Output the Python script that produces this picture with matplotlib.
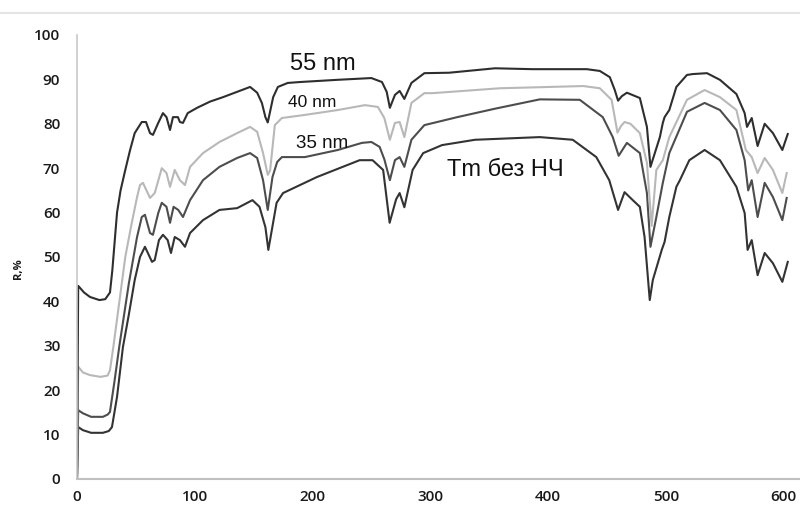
import matplotlib
matplotlib.use('Agg')
import matplotlib.pyplot as plt
from matplotlib.lines import Line2D

plt.rcParams['font.family'] = ['Open Sans', 'DejaVu Sans']

# спектры отражения, R (%) от длины волны
x_55 = [0, 1, 6, 11, 19, 24, 28, 30, 34, 37, 41, 45, 49, 55, 58.6, 62, 64.5, 69, 73, 76,
        79, 81.5, 85.7, 87.4, 90, 94, 102, 113, 124, 136, 147, 153, 157, 160, 162, 166.6,
        170.6, 179, 189, 221, 250, 259, 263, 265.7, 270, 274, 278, 284, 295, 316, 355, 387,
        433, 444, 452.5, 456.7, 459.5, 462.6, 467, 478, 484, 487, 490.7, 495, 497.5, 499,
        503, 509, 518, 523, 535, 546, 560, 567, 569, 573, 578, 584, 591, 599, 603.6]
r_55 = [0, 43.5, 42, 41, 40.3, 40.5, 42, 47, 60, 65, 69.6, 74, 77.9, 80.4, 80.4, 77.9, 77.5,
        80.2, 82.4, 81.5, 78.6, 81.5, 81.5, 80.4, 80.2, 82.4, 83.6, 85, 86, 87.2, 88.3, 87,
        84.7, 81.5, 80.3, 86, 88.3, 89.2, 89.4, 89.9, 90.3, 89.4, 87.2, 83.6, 86.5, 87.4,
        85.6, 89.2, 91.4, 91.5, 92.5, 92.3, 92.3, 91.9, 90.5, 87.6, 85.2, 86.2, 87, 85.8,
        79.3, 70.3, 73.4, 77, 80.2, 81.5, 83.1, 88.3, 91, 91.2, 91.4, 89.9, 86.7, 82.4, 79.3,
        81.3, 75, 80, 77.9, 74.1, 77.7]

x_40 = [0, 1, 5, 11, 20, 26, 28, 31, 34, 37, 41, 46, 51, 53.5, 56, 62, 66, 72, 76, 79, 83,
        87.4, 91.7, 96, 107, 121, 136, 147, 153, 158, 162, 164, 168, 174, 193.5, 221.5,
        244.5, 255.5, 261, 265.7, 270, 274, 278, 284, 295, 302, 359, 430, 444, 454, 459,
        462, 465, 470, 478, 484, 488, 492, 497.5, 503, 518, 533, 546, 560, 568, 573, 578,
        584, 591, 599, 602.7]
r_40 = [0, 25.3, 24, 23.4, 23, 23.3, 24.5, 30, 36, 42, 50, 57, 63.5, 66.2, 66.7, 63.3, 64.4,
        70, 68.9, 65.8, 69.6, 67.3, 66.2, 70.3, 73.4, 75.9, 77.9, 79.3, 78.2, 73.4, 68.5,
        69.5, 79.7, 81.3, 82, 83.1, 84.2, 83.8, 81.3, 76.4, 80.2, 80.4, 77, 84.7, 86.9, 86.9,
        88, 88.5, 88, 85.4, 78, 79.5, 80.4, 80, 77.9, 71.2, 57, 69.6, 71.8, 77, 85.4, 87.6,
        86, 83.1, 74.1, 72.5, 68.9, 72.3, 69.6, 64.4, 68.9]

x_35 = [0, 1, 5, 12, 22, 26, 28, 32, 36, 40, 44, 48, 51, 55, 57.7, 62, 64.5, 69, 72, 76,
        79, 82, 86, 90, 96, 107, 121, 136, 147, 153, 158, 162, 166, 170, 174, 193.5, 221.5,
        242, 250, 257, 261, 265.7, 270, 274, 278, 284, 295, 323, 355, 393, 427, 446.5, 455,
        460, 467, 478, 484, 487, 492, 497.5, 503, 518, 533, 546, 560, 567, 570, 573, 578,
        584, 591, 599, 602.7]
r_35 = [0, 15.5, 14.8, 14, 14, 14.5, 15.1, 22.3, 30, 37, 44, 50, 54.5, 59, 59.5, 55.4, 55,
        59.9, 62.2, 61.3, 57.7, 61.3, 60.6, 59, 62.8, 67.3, 70.3, 72.3, 73.4, 72.3, 67.3,
        60.6, 68, 71.4, 72.5, 72.5, 74.1, 75.7, 75.9, 74.8, 72, 67.3, 71.8, 72.5, 70.3, 76.4,
        79.7, 81.5, 83.4, 85.5, 85.4, 81.5, 77, 72.8, 75.7, 73.4, 64.4, 52.3, 59, 66.7, 73.4,
        82.7, 84.7, 83.1, 78.6, 71.8, 65, 67.3, 59, 66.7, 63.5, 58.3, 63.3]

x_tm = [0, 1, 5, 12, 22, 27, 29.7, 34, 39, 44, 49, 53.5, 57.7, 63.7, 66, 69.6, 73, 77, 79.8,
        83, 87.4, 91.7, 96, 107, 121, 136, 149, 155, 160, 162.5, 169.5, 175, 203.7, 240, 251,
        260, 265.5, 271, 274, 278, 285, 294, 310, 338, 393, 421, 441, 452, 459.5, 465, 472,
        478, 482, 486.4, 489, 496.6, 499, 503, 509, 512, 520, 533, 546, 560, 567, 569.5, 573,
        578, 584, 591, 599, 603.6]
r_tm = [0, 11.7, 11, 10.4, 10.4, 10.8, 11.7, 18.5, 29.7, 37, 44.8, 50, 52.3, 48.9, 49.3,
        53.8, 55, 53.8, 50.9, 54.5, 53.8, 52.3, 55.4, 58.3, 60.6, 61, 62.8, 61.3, 56.7, 51.6,
        62.2, 64.4, 68, 71.8, 71.8, 69.6, 57.7, 63, 64.4, 61.2, 69.6, 73.4, 75.2, 76.4, 77,
        76.4, 72.5, 67.3, 60.6, 64.6, 62.8, 61.3, 54.5, 40.3, 44.8, 51.6, 53.4, 59, 65.8,
        67.3, 71.8, 74.1, 71.8, 65.8, 59.9, 51.6, 53.8, 45.9, 50.9, 48.6, 44.4, 48.9]

series = [
    (x_tm, r_tm, '#333333'),
    (x_35, r_35, '#4d4d4d'),
    (x_40, r_40, '#b8b8b8'),
    (x_55, r_55, '#2e2e2e'),
]

# подписи кривых: текст, x, R, кегль
labels = [('55 nm', 209, 93.4, 17),
          ('40 nm', 200, 84.9, 12.5),
          ('35 nm', 208, 75.5, 13.5),
          ('Tm без НЧ', 364, 69.6, 17)]

fig = plt.figure(figsize=(8, 5.13), dpi=100)
ax = fig.add_axes([0.09625, 0.0663, 0.90375, 0.8655])

for xs, rs, c in series:
    ax.plot(xs, rs, color=c, lw=1.5, solid_joinstyle='round')

for txt, lx, ly, fs in labels:
    ax.text(lx, ly, txt, ha='center', va='center', fontsize=fs,
            family=['Liberation Sans', 'DejaVu Sans'], color='#111111')

ax.set_xlim(0, 614)
ax.set_ylim(0, 100)
ax.set_xticks(range(0, 601, 100))
ax.set_yticks(range(0, 101, 10))
ax.tick_params(length=0, labelsize=11, colors='#1a1a1a')
ax.tick_params(axis='y', pad=12)
ax.tick_params(axis='x', pad=8)
for lbl in ax.get_xticklabels() + ax.get_yticklabels():
    lbl.set_fontweight('semibold')
for s in ('top', 'right'):
    ax.spines[s].set_visible(False)
ax.spines['left'].set_color('#c8c8c8')
ax.spines['bottom'].set_color('#c0c0c0')
ax.spines['left'].set_linewidth(1.2)
ax.spines['bottom'].set_linewidth(1.5)

fig.text(0.023, 0.477, 'R,%', rotation=90, ha='center', va='center',
         fontsize=8, fontweight='bold', color='#1a1a1a')

# светлая рамка сверху
fig.add_artist(Line2D([0, 1], [1 - 13 / 513] * 2, color='#e4e4e4', lw=1.5))

fig.savefig('out.png', dpi=100, facecolor='white')
